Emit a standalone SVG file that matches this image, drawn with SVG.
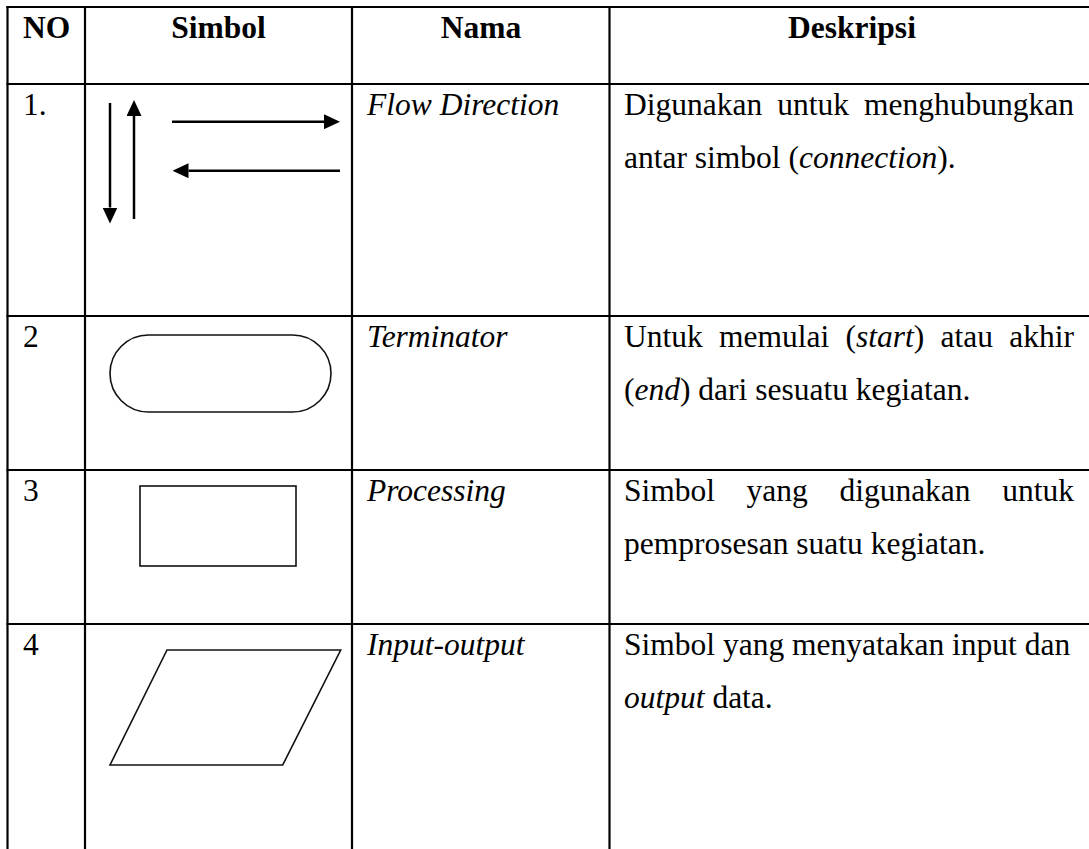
<svg xmlns="http://www.w3.org/2000/svg" width="1089" height="849" viewBox="0 0 1089 849">
<style>
text{font-family:"Liberation Serif","Times New Roman",serif;font-size:31.5px;fill:#000}
.h{font-weight:bold}
.it{font-style:italic}
.grid line{stroke:#000;stroke-width:2.2}
.shape{fill:none;stroke:#111;stroke-width:1.6}
.arr{stroke:#000;stroke-width:2.5;fill:none;marker-end:url(#ah)}
</style>
<defs>
<marker id="ah" markerUnits="userSpaceOnUse" markerWidth="16" markerHeight="15" refX="0" refY="7.5" orient="auto" viewBox="0 0 16 15">
<path d="M0,0 L16,7.5 L0,15 z" fill="#000"/>
</marker>
</defs>
<rect width="1089" height="849" fill="#fff"/>
<g id="grid" class="grid">
<line x1="6.5" y1="7" x2="1089" y2="7"/>
<line x1="6.5" y1="84" x2="1089" y2="84"/>
<line x1="6.5" y1="316" x2="1089" y2="316"/>
<line x1="6.5" y1="470" x2="1089" y2="470"/>
<line x1="6.5" y1="624" x2="1089" y2="624"/>
<line x1="7.5" y1="6" x2="7.5" y2="849"/>
<line x1="85" y1="6" x2="85" y2="849"/>
<line x1="352" y1="6" x2="352" y2="849"/>
<line x1="609.5" y1="6" x2="609.5" y2="849"/>
</g>
<g id="header">
<text class="h" x="23" y="38">NO</text>
<text class="h" x="218.5" y="38" text-anchor="middle">Simbol</text>
<text class="h" x="481" y="38" text-anchor="middle">Nama</text>
<text class="h" x="852" y="38" text-anchor="middle">Deskripsi</text>
</g>
<g id="row1">
<text x="23" y="115">1.</text>
<text class="it" x="367" y="115">Flow Direction</text>
<text y="115"><tspan x="624">Digunakan</tspan><tspan x="777.2">untuk</tspan></text>
<text x="1074" y="115" text-anchor="end">menghubungkan</text>
<text x="624" y="168">antar simbol (<tspan class="it">connection</tspan>).</text>
</g>
<g id="connectors">
<line class="arr" x1="110" y1="103" x2="110" y2="207.5"/>
<line class="arr" x1="134" y1="219" x2="134" y2="116"/>
<line class="arr" x1="172" y1="121.7" x2="324" y2="121.7"/>
<line class="arr" x1="340" y1="170.7" x2="188.5" y2="170.7"/>
</g>
<g id="row2">
<text x="23" y="347">2</text>
<rect class="shape" x="110" y="335" width="221" height="77" rx="38.5" ry="38.5"/>
<text class="it" x="367" y="347">Terminator</text>
<text y="347"><tspan x="624">Untuk</tspan><tspan x="719">memulai</tspan><tspan x="845.5">(<tspan class="it">start</tspan>)</tspan><tspan x="940.5">atau</tspan></text>
<text x="1074" y="347" text-anchor="end">akhir</text>
<text x="624" y="400">(<tspan class="it">end</tspan>) dari sesuatu kegiatan.</text>
</g>
<g id="row3">
<text x="23" y="501">3</text>
<rect class="shape" x="140" y="486" width="156" height="80"/>
<text class="it" x="367" y="501">Processing</text>
<text y="501"><tspan x="624">Simbol</tspan><tspan x="746.6">yang</tspan><tspan x="839.4">digunakan</tspan></text>
<text x="1074" y="501" text-anchor="end">untuk</text>
<text x="624" y="554">pemprosesan suatu kegiatan.</text>
</g>
<g id="row4">
<text x="23" y="655">4</text>
<polygon class="shape" points="167,650 340.7,650 282.7,765 110,765"/>
<text class="it" x="367" y="655">Input-output</text>
<text x="624" y="655">Simbol yang menyatakan input dan</text>
<text x="624" y="708"><tspan class="it">output</tspan> data.</text>
</g>
</svg>
